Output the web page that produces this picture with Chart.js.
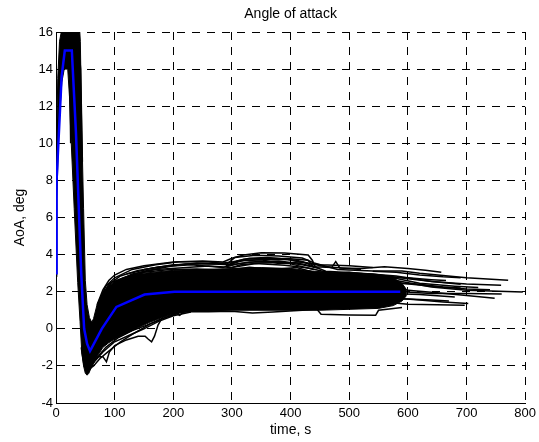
<!DOCTYPE html>
<html><head><meta charset="utf-8">
<script src="https://cdn.jsdelivr.net/npm/chart.js@4/dist/chart.umd.min.js"></script>
<style>html,body{margin:0;padding:0;background:#fff;}canvas{display:block;}</style>
</head><body>
<canvas id="c" width="539" height="442"></canvas>
<script>
// ---- axis settings (values) ----
const titleText = 'Angle of attack';
const xLabel = 'time, s';
const yLabel = 'AoA, deg';
const xRange = [0, 800];
const yRange = [-4, 16];
const xStep = 100;
const yStep = 2;

// ---- mean trajectory (blue) [time s, AoA deg] ----
const meanRun = [[0,3],[1,8],[9.6,13.6],[15,15],[27,15],[34,10.6],[43,3],[48,0],[53,-0.8],[58,-1.2],[78,0],[103,1.18],[151,1.85],[202,2.0],[587,2.0]];

// ---- dense envelope of the Monte-Carlo runs ----
const coreUpper = [[0,3.2],[1,10],[3,13.5],[6,15.5],[9,16.0],[12,16.3],[40,16.3],[41.5,15.5],[44,10.7],[47,6.5],[50,2.6],[53,1.3],[57,0.6],[61,0.35],[64,0.55],[70,1.3],[80,1.95],[90,2.3],[100,2.55],[115,2.75],[130,2.9],[150,3.0],[200,3.15],[250,3.2],[300,3.25],[350,3.3],[400,3.25],[440,3.1],[500,3.0],[550,2.9],[575,2.75],[590,2.45],[598,2.1]];
const coreLower = [[0,2.8],[1.5,7],[5,11],[10,13.3],[14,14],[20,14],[23,12.5],[25,10.7],[31,6.5],[37,2.5],[41,0.4],[44,-1.3],[47,-2.0],[50,-2.4],[53,-2.5],[56,-2.4],[60,-2.1],[65,-1.8],[72,-1.4],[80,-1.0],[90,-0.75],[100,-0.55],[120,-0.25],[140,0.05],[160,0.35],[180,0.6],[200,0.8],[230,0.95],[300,1.0],[400,1.0],[450,1.0],[500,1.05],[550,1.1],[575,1.25],[590,1.5],[598,1.8]];

// ---- individual runs (black) ----
const runA = [[70,1.3],[80,2.1],[90,2.6],[100,2.9],[120,3.2],[150,3.4],[200,3.6],[250,3.65],[285,3.6],[300,3.8],[320,3.98],[350,4.1],[390,4.08],[430,3.98],[437,3.7],[442,3.35],[470,3.3],[477,3.62],[484,3.28],[520,3.25],[560,3.35],[600,3.25],[630,3.15],[657,3.05]];
const runB = [[72,1.4],[85,2.3],[100,2.75],[130,3.2],[170,3.45],[210,3.62],[260,3.62],[292,3.5],[305,3.85],[340,3.97],[380,3.92],[420,3.82],[440,3.55],[480,3.2],[540,3.12],[590,3.12],[620,3.0],[700,2.75],[771,2.62]];
const runC = [[75,1.6],[90,2.4],[110,2.85],[140,3.15],[180,3.35],[230,3.45],[285,3.3],[310,3.65],[350,3.72],[380,3.52],[420,3.62],[460,3.1],[520,3.0],[580,2.85],[640,2.55],[700,2.42],[759,2.35]];
const runD = [[78,1.75],[100,2.5],[130,2.95],[170,3.2],[210,3.28],[260,3.38],[300,3.3],[340,3.52],[390,3.42],[430,3.28],[470,3.0],[540,2.95],[600,2.7],[650,2.52],[690,2.4]];
const runE = [[85,1.9],[110,2.6],[150,3.05],[190,3.18],[240,3.22],[290,3.15],[330,3.32],[370,3.2],[410,3.3],[450,2.95],[500,3.05],[560,2.85],[620,2.45],[680,2.3],[720,2.22]];
const runF = [[95,2.0],[125,2.6],[165,2.95],[215,3.08],[265,3.02],[315,3.1],[360,3.05],[400,3.0],[460,2.85],[520,2.7],[580,2.6],[640,2.25],[700,2.08],[796,1.99]];
const runG = [[80,1.9],[95,2.5],[115,2.75],[150,3.1],[200,3.4],[240,3.55],[270,3.5],[300,3.6],[330,3.8],[360,3.85],[395,3.75],[415,3.6],[450,3.45],[500,3.4],[540,3.3]];
const runT = [[290,3.4],[300,3.55],[320,3.75],[360,3.8],[400,3.78],[430,3.7],[440,3.3]];
const runU = [[290,3.35],[310,3.5],[340,3.62],[380,3.65],[420,3.5],[445,3.3]];
const runV = [[300,3.3],[315,3.45],[350,3.55],[390,3.58],[420,3.45],[450,3.25]];
const runW = [[150,3.2],[200,3.45],[260,3.5],[295,3.45],[320,3.7],[380,3.75],[410,3.7],[435,3.5],[460,3.35],[520,3.2]];
const runX = [[120,2.95],[170,3.3],[220,3.5],[270,3.55],[300,3.45],[330,3.6],[370,3.6],[400,3.5],[440,3.2]];
const runH = [[560,2.2],[610,2.05],[650,1.95],[700,1.8],[748,1.65]];
const runI = [[560,1.7],[620,1.55],[660,1.45],[703,1.37]];
const runJ = [[560,1.45],[600,1.32],[650,1.29],[697,1.27]];
const runK = [[560,2.5],[620,2.4],[660,2.25],[690,2.2]];
const runL = [[570,1.9],[620,1.85],[650,1.78],[680,1.72]];
const runY = [[540,3.1],[580,3.05],[620,2.9],[660,2.8],[690,2.75]];
const runZ = [[540,2.6],[590,2.45],[640,2.3],[700,2.15],[740,2.1]];
const runAA = [[540,2.05],[590,2.0],[640,1.9],[700,1.9],[760,1.88]];
const runAB = [[540,1.6],[600,1.6],[640,1.55],[670,1.5]];
const runAC = [[540,2.8],[600,2.75],[640,2.65],[665,2.6]];
const runM = [[43,-1.0],[48,-2.0],[54,-2.3],[62,-1.8],[72,-1.5],[80,-1.5],[86,-1.78],[91,-1.25],[100,-0.9],[120,-0.6],[140,-0.4],[152,-0.4],[157,-0.55],[163,-0.7],[168,-0.4],[174,0.2],[182,0.65],[200,0.95],[240,1.0],[300,1.05]];
const runN = [[60,-2.1],[64,-2.0],[75,-1.6],[90,-1.2],[110,-0.7],[130,-0.3],[160,0.25],[190,0.65],[205,0.82],[211,0.73],[218,0.92],[260,0.92],[300,0.95],[335,0.85],[370,0.9],[420,1.0],[445,1.05],[452,0.78],[500,0.74],[545,0.73],[550,1.0],[590,1.15]];
const runO = [[55,-2.0],[70,-1.2],[90,-0.6],[120,-0.1],[150,0.35],[190,0.8],[240,1.0],[300,1.05]];
const runP = [[58,-2.2],[66,-1.7],[85,-1.0],[105,-0.5],[130,-0.1],[155,0.2],[180,0.55],[210,0.85]];
const runQ = [[62,-1.9],[80,-1.25],[100,-0.7],[125,-0.35],[150,0.0],[175,0.4],[200,0.7],[230,0.9]];
const runS = [[10,16.2],[18,16.3],[22,16.0],[24,12.5],[25,10.0],[26,12.5],[28,16.0],[36,16.3],[42,14.0],[45,9.0]];

const blackRuns = [runA,runB,runC,runD,runE,runF,runG,runT,runU,runV,runW,runX,runH,runI,runJ,runK,runL,runY,runZ,runAA,runAB,runAC,runM,runN,runO,runP,runQ,runS];

// ---- build chart ----
const FONT = "'Liberation Sans', Arial, Helvetica, sans-serif";
const pts = a => a.map(p => ({x: p[0], y: p[1]}));

const datasets = [];
datasets.push({data: pts(meanRun), borderColor: '#0000ff', borderWidth: 2.5, pointRadius: 0, fill: false, tension: 0, clip: 0});
blackRuns.forEach(r => datasets.push({data: pts(r), borderColor: '#000', borderWidth: 1.5, pointRadius: 0, fill: false, tension: 0, clip: 0}));
const upperIndex = datasets.length;
datasets.push({data: pts(coreUpper), borderColor: '#000', borderWidth: 1, backgroundColor: '#000', pointRadius: 0, fill: upperIndex + 1, tension: 0, clip: 0});
datasets.push({data: pts(coreLower), borderColor: '#000', borderWidth: 1, pointRadius: 0, fill: false, tension: 0, clip: 0});

const tickFont = {family: FONT, size: 13};
const labelFont = {family: FONT, size: 14};
const dash = [8, 7];

new Chart(document.getElementById('c'), {
  type: 'line',
  data: {datasets},
  options: {
    animation: false,
    responsive: false,
    events: [],
    layout: {padding: {left: 0, right: 12, top: 0, bottom: 0}},
    plugins: {
      legend: {display: false},
      tooltip: {enabled: false},
      title: {display: true, fullSize: false, text: titleText, color: '#000', font: {family: FONT, size: 14, weight: 'normal'}, padding: {top: 6, bottom: 9.2}}
    },
    scales: {
      x: {
        type: 'linear', min: xRange[0], max: xRange[1],
        ticks: {stepSize: xStep, color: '#000', font: tickFont, padding: 3, maxRotation: 0, autoSkip: false},
        grid: {color: '#000', lineWidth: 1, drawTicks: false},
        border: {display: true, color: '#000', width: 1, dash: dash},
        title: {display: true, text: xLabel, color: '#000', font: labelFont, padding: {top: 0, bottom: 3.6}},
        afterFit: s => { s.height = 39; }
      },
      y: {
        type: 'linear', min: yRange[0], max: yRange[1],
        ticks: {stepSize: yStep, color: '#000', font: tickFont, padding: 3},
        grid: {color: '#000', lineWidth: 1, drawTicks: false},
        border: {display: true, color: '#000', width: 1, dash: dash},
        title: {display: true, text: yLabel, color: '#000', font: labelFont, padding: {top: 11.6, bottom: 0}},
        afterFit: s => { s.width = 56; }
      }
    }
  }
});
</script>
</body></html>
